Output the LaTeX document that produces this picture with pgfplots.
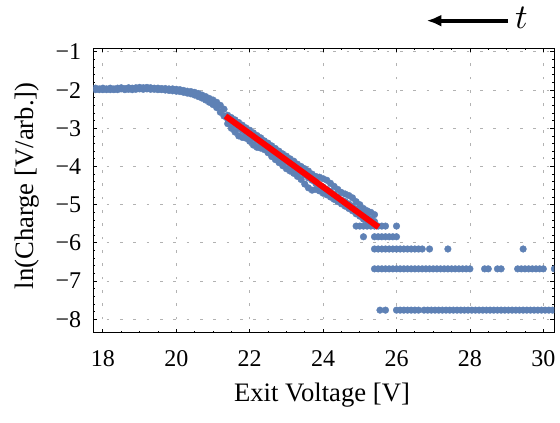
\documentclass[border=0pt]{standalone}
\usepackage{fontspec}
\setmainfont{Liberation Serif}
\usepackage{graphicx}
\usepackage{pgfplots}
\pgfplotsset{compat=1.18}
\usetikzlibrary{arrows.meta}
\definecolor{mblue}{HTML}{5E81B5}

\begin{document}
\begin{tikzpicture}
\path[use as bounding box] (-70pt,-67pt) rectangle (350pt,249.5pt);
\begin{axis}[
  at={(0,0)}, anchor=south west,
  scale only axis,
  clip marker paths=true,
  width=345.75pt, height=213.3pt,
  xmin=17.74, xmax=30.3,
  ymin=-8.35, ymax=-0.906,
  xtick={18,20,...,30},
  xticklabels={18,20,22,24,26,28,30},
  ytick={-8,-7,...,-1},
  yticklabels={−8,−7,−6,−5,−4,−3,−2,−1},
  minor x tick num=3,
  minor y tick num=4,
  major tick length=3pt,
  minor tick length=1.5pt,
  tick style={black, line width=0.6pt},
  axis line style={black, line width=0.8pt},
  grid=major,
  major grid style={gray!60, line width=0.6pt, dash pattern=on 2pt off 8pt},
  ticklabel style={font=\fontsize{18}{20}\selectfont, inner sep=0pt},
  xticklabel style={anchor=base, yshift=-25pt},
  yticklabel style={anchor=east, xshift=-9pt},
  xlabel={Exit Voltage [V]},
  ylabel={ln(Charge [V/arb.])},
  every axis x label/.style={at={(axis description cs:0.496,-0.219)}, anchor=center, font=\fontsize{20}{24}\selectfont},
  every axis y label/.style={at={(axis description cs:-0.1437,0.516)}, anchor=center, rotate=90, font=\fontsize{20}{24}\selectfont},
  dots/.style={only marks, mark=*, mark size=2.5pt, mark options={fill=mblue, draw=mblue, line width=0.3pt}},
]
% flat part and knee
\addplot[dots]
  table[row sep=\\] {x y\\
  17.8 -1.95\\ 17.8 -1.99\\ 17.9 -1.97\\ 17.9 -1.99\\ 18.0 -1.95\\ 18.0 -1.99\\
  18.1 -1.97\\ 18.1 -1.99\\ 18.2 -1.99\\ 18.2 -1.95\\ 18.3 -1.97\\ 18.3 -1.99\\
  18.4 -1.95\\ 18.4 -1.99\\ 18.5 -1.97\\ 18.5 -1.94\\ 18.6 -1.96\\ 18.6 -1.99\\
  18.7 -1.94\\ 18.7 -1.98\\ 18.8 -1.95\\ 18.8 -1.99\\ 18.9 -1.94\\ 18.9 -1.98\\
  19.0 -1.93\\ 19.0 -1.97\\ 19.1 -1.94\\ 19.1 -1.98\\ 19.2 -1.93\\ 19.2 -1.97\\
  19.3 -1.94\\ 19.3 -1.98\\ 19.4 -1.95\\ 19.4 -1.98\\ 19.5 -1.95\\ 19.5 -1.99\\
  19.6 -1.96\\ 19.6 -1.99\\ 19.7 -1.96\\ 19.7 -2.00\\ 19.8 -1.97\\ 19.8 -2.01\\
  19.9 -1.97\\ 19.9 -2.02\\ 20.0 -1.98\\ 20.0 -2.03\\ 20.1 -1.99\\ 20.1 -2.04\\
  20.2 -2.01\\ 20.2 -2.06\\ 20.3 -2.03\\ 20.3 -2.08\\ 20.4 -2.04\\ 20.4 -2.10\\
  20.5 -2.06\\ 20.5 -2.13\\ 20.6 -2.09\\ 20.6 -2.17\\ 20.7 -2.13\\ 20.7 -2.21\\
  20.8 -2.17\\ 20.8 -2.26\\ 20.9 -2.22\\ 20.9 -2.32\\ 21.0 -2.26\\ 21.0 -2.38\\
  21.1 -2.32\\ 21.1 -2.46\\ 21.2 -2.40\\ 21.2 -2.58\\ 21.3 -2.50\\ 21.3 -2.68\\
  };
% linear part
\addplot[dots]
  table[row sep=\\] {x y\\
  21.4 -2.66\\ 21.4 -2.76\\ 21.4 -2.88\\ 21.5 -2.72\\ 21.5 -2.84\\ 21.5 -3.00\\
  21.6 -2.78\\ 21.6 -2.92\\ 21.6 -3.10\\ 21.7 -2.85\\ 21.7 -3.00\\ 21.7 -3.20\\
  21.8 -2.92\\ 21.8 -3.06\\ 21.8 -3.24\\ 21.9 -2.99\\ 21.9 -3.13\\ 21.9 -3.26\\
  22.0 -3.05\\ 22.0 -3.19\\ 22.0 -3.34\\ 22.1 -3.12\\ 22.1 -3.26\\ 22.1 -3.44\\
  22.2 -3.19\\ 22.2 -3.32\\ 22.2 -3.50\\ 22.3 -3.25\\ 22.3 -3.38\\ 22.3 -3.52\\
  22.4 -3.33\\ 22.4 -3.45\\ 22.4 -3.56\\ 22.5 -3.39\\ 22.5 -3.52\\ 22.5 -3.64\\
  22.6 -3.46\\ 22.6 -3.60\\ 22.6 -3.74\\ 22.7 -3.53\\ 22.7 -3.67\\ 22.7 -3.82\\
  22.8 -3.60\\ 22.8 -3.74\\ 22.8 -3.90\\ 22.9 -3.67\\ 22.9 -3.81\\ 22.9 -3.98\\
  23.0 -3.73\\ 23.0 -3.87\\ 23.0 -4.06\\ 23.1 -3.80\\ 23.1 -3.95\\ 23.1 -4.12\\
  23.2 -3.86\\ 23.2 -4.01\\ 23.2 -4.18\\ 23.3 -3.94\\ 23.3 -4.09\\ 23.3 -4.26\\
  23.4 -4.00\\ 23.4 -4.15\\ 23.4 -4.34\\ 23.5 -4.06\\ 23.5 -4.22\\ 23.5 -4.46\\
  23.6 -4.12\\ 23.6 -4.30\\ 23.6 -4.56\\ 23.7 -4.20\\ 23.7 -4.36\\ 23.7 -4.62\\
  23.8 -4.26\\ 23.8 -4.44\\ 23.8 -4.60\\ 23.9 -4.28\\ 23.9 -4.50\\ 23.9 -4.64\\
  24.0 -4.32\\ 24.0 -4.54\\ 24.0 -4.70\\ 24.1 -4.36\\ 24.1 -4.60\\ 24.1 -4.74\\
  24.2 -4.44\\ 24.2 -4.66\\ 24.2 -4.80\\ 24.3 -4.52\\ 24.3 -4.74\\ 24.3 -4.86\\
  24.4 -4.60\\ 24.4 -4.80\\ 24.4 -4.92\\ 24.5 -4.68\\ 24.5 -4.88\\ 24.5 -4.98\\
  24.6 -4.72\\ 24.6 -4.92\\ 24.6 -5.04\\ 24.7 -4.76\\ 24.7 -4.98\\ 24.7 -5.10\\
  24.8 -4.82\\ 24.8 -5.04\\ 24.8 -5.16\\ 24.9 -4.92\\ 24.9 -5.12\\ 24.9 -5.24\\
  25.0 -5.00\\ 25.0 -5.18\\ 25.0 -5.30\\ 25.1 -5.10\\ 25.1 -5.26\\ 25.1 -5.38\\
  25.2 -5.16\\ 25.2 -5.32\\ 25.2 -5.42\\ 25.3 -5.20\\ 25.3 -5.38\\ 25.3 -5.48\\
  25.4 -5.26\\ 25.4 -5.44\\ 25.4 -5.52\\
  };
% quantised levels
\addplot[dots]
  table[row sep=\\] {x y\\
  24.9 -5.56\\ 25.0 -5.56\\ 25.1 -5.56\\ 25.2 -5.56\\ 25.3 -5.56\\ 25.4 -5.56\\
  25.5 -5.56\\ 25.6 -5.56\\ 25.7 -5.56\\ 26.0 -5.56\\
  25.1 -5.84\\ 25.4 -5.84\\ 25.5 -5.84\\ 25.6 -5.84\\ 25.7 -5.84\\ 25.8 -5.84\\
  25.9 -5.84\\ 26.0 -5.84\\
  25.4 -6.16\\ 25.5 -6.16\\ 25.6 -6.16\\ 25.7 -6.16\\ 25.8 -6.16\\ 25.9 -6.16\\
  26.0 -6.16\\ 26.1 -6.16\\ 26.2 -6.16\\ 26.3 -6.16\\ 26.4 -6.16\\ 26.5 -6.16\\
  26.6 -6.16\\ 26.7 -6.16\\ 26.9 -6.16\\ 27.4 -6.16\\ 29.45 -6.16\\
  25.4 -6.68\\ 25.5 -6.68\\ 25.6 -6.68\\ 25.7 -6.68\\ 25.8 -6.68\\ 25.9 -6.68\\
  26.0 -6.68\\ 26.1 -6.68\\ 26.2 -6.68\\ 26.3 -6.68\\ 26.4 -6.68\\ 26.5 -6.68\\
  26.6 -6.68\\ 26.7 -6.68\\ 26.8 -6.68\\ 26.9 -6.68\\ 27.0 -6.68\\ 27.1 -6.68\\
  27.2 -6.68\\ 27.3 -6.68\\ 27.4 -6.68\\ 27.5 -6.68\\ 27.6 -6.68\\ 27.7 -6.68\\
  27.8 -6.68\\ 27.9 -6.68\\ 28.0 -6.68\\ 28.4 -6.68\\ 28.5 -6.68\\ 28.75 -6.68\\
  28.85 -6.68\\ 29.3 -6.68\\ 29.4 -6.68\\ 29.5 -6.68\\ 29.6 -6.68\\ 29.7 -6.68\\
  29.8 -6.68\\ 29.9 -6.68\\ 30.0 -6.68\\ 30.3 -6.68\\
  25.55 -7.76\\ 25.7 -7.76\\ 26.0 -7.76\\ 26.1 -7.76\\ 26.2 -7.76\\ 26.3 -7.76\\
  26.4 -7.76\\ 26.5 -7.76\\ 26.6 -7.76\\ 26.75 -7.76\\ 26.85 -7.76\\ 26.95 -7.76\\
  27.05 -7.76\\ 27.15 -7.76\\ 27.25 -7.76\\ 27.35 -7.76\\ 27.45 -7.76\\ 27.55 -7.76\\
  27.65 -7.76\\ 27.75 -7.76\\ 27.85 -7.76\\ 27.95 -7.76\\ 28.05 -7.76\\ 28.15 -7.76\\
  28.25 -7.76\\ 28.35 -7.76\\ 28.45 -7.76\\ 28.55 -7.76\\ 28.65 -7.76\\ 28.75 -7.76\\
  28.85 -7.76\\ 28.95 -7.76\\ 29.05 -7.76\\ 29.15 -7.76\\ 29.25 -7.76\\ 29.35 -7.76\\
  29.45 -7.76\\ 29.55 -7.76\\ 29.65 -7.76\\ 29.75 -7.76\\ 29.85 -7.76\\ 29.95 -7.76\\
  30.05 -7.76\\ 30.15 -7.76\\ 30.25 -7.76\\
  };
% fit
\addplot[red, line width=4.5pt, mark=none] coordinates {(21.34,-2.68) (25.51,-5.59)};
\end{axis}
\draw[line width=3pt, -{Latex[length=11pt,width=9pt]}] (311pt,234pt) -- (250pt,234pt);
\node at (321pt,236pt) {\scalebox{2.6}{$t$}};
\end{tikzpicture}
\end{document}
